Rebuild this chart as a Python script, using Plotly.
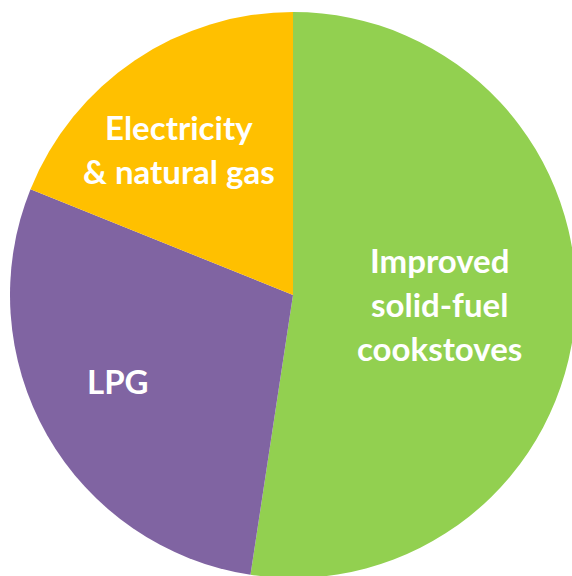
import plotly.graph_objects as go

labels = ["Improved solid-fuel cookstoves", "LPG", "Electricity & natural gas"]
label_lines = [["Improved", "solid-fuel", "cookstoves"], ["LPG"], ["Electricity", "& natural gas"]]
values = [52.4, 28.7, 18.9]
colors = ["#92D050", "#8064A2", "#FFC000"]

W, H = 586, 588
fig = go.Figure(go.Pie(
    labels=labels,
    values=values,
    sort=False,
    direction="clockwise",
    rotation=0,
    marker=dict(colors=colors, line=dict(width=0)),
    textinfo="none",
    hoverinfo="label+percent",
    domain=dict(x=[10 / W, 576 / W], y=[10 / H, 576 / H]),
    showlegend=False,
))

# label anchor positions in pixels (from top-left): centre x, first-line y
label_pos = [(439, 260), (118, 381), (179, 127)]
line_gap = 44
for lines, (px, py) in zip(label_lines, label_pos):
    for i, line in enumerate(lines):
        fig.add_annotation(
            text=line, x=px / W, y=1 - (py + i * line_gap) / H,
            xref="paper", yref="paper",
            showarrow=False, xanchor="center", yanchor="middle",
            font=dict(family="Lato", size=33, color="white", weight="bold"),
        )

fig.update_layout(
    width=W, height=H,
    margin=dict(l=0, r=0, t=0, b=0),
    paper_bgcolor="white",
    plot_bgcolor="white",
)

fig.write_html(
    "out.html",
    config={"displayModeBar": False},
    post_script="document.body.style.margin='0';document.body.style.overflow='hidden';document.documentElement.style.overflow='hidden';",
)
